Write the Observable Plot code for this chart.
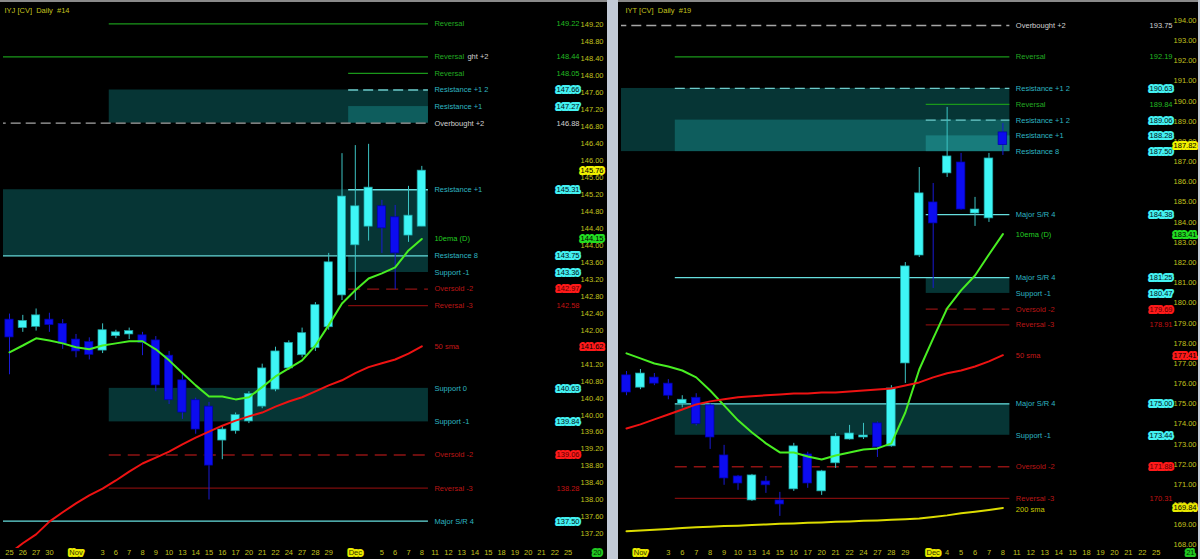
<!DOCTYPE html>
<html><head><meta charset="utf-8">
<script src="https://cdn.jsdelivr.net/npm/d3@7"></script>
<script src="https://cdn.jsdelivr.net/npm/@observablehq/plot@0.6"></script>
<style>
html,body{margin:0;padding:0;background:#000;}
#wrap{position:relative;width:1200px;height:559px;background:#000;overflow:hidden;}
#left{position:absolute;left:0;top:0;}
#right{position:absolute;left:618px;top:0;}
#sep{position:absolute;left:607px;top:0;width:11px;height:559px;background:#c2cad6;}
#redge{position:absolute;left:1198px;top:0;width:2px;height:559px;background:#c2cad6;}
.topline{position:absolute;top:0;height:2px;background:#8a8a8a;}
</style></head><body>
<div id="wrap"><div id="left"></div><div id="sep"></div><div id="right"></div><div id="redge"></div>
<div class="topline" style="left:0;width:607px"></div><div class="topline" style="left:618px;width:580px"></div></div>
<script>
// ---------- shared data ----------
const days = ["25","26","27","30","31","Nov","2","3","6","7","8","9","10","13","14","15","16","17","20","21","22","24","27","28","29","30","Dec","4","5","6","7","8","11","12","13","14","15","18","19","20","21","22","25"];
const monthDays = [5, 26];
const leftHiddenDays = [4, 6, 25, 27];
const rightHiddenDays = [0, 1, 2, 3, 4, 6, 25];

// ---------- IYJ (left) ----------
const leftTitle = "IYJ [CV]  Daily  #14";
const leftCounter = "20";
const leftStart = 0;
// [open, high, low, close]
const leftOHLC = [
  [142.25,142.38,140.95,141.83],[142.05,142.35,141.95,142.22],[142.08,142.50,141.98,142.35],[142.25,142.40,141.95,142.12],
  [142.15,142.25,141.55,141.68],[141.78,141.90,141.35,141.50],[141.72,141.82,141.30,141.42],[141.52,142.15,141.45,142.00],
  [141.86,142.00,141.80,141.95],[141.90,142.05,141.78,141.98],[141.88,141.95,141.40,141.70],[141.76,141.85,140.55,140.70],
  [141.40,141.50,140.25,140.35],[140.82,140.95,139.90,140.06],[140.35,140.40,139.55,139.66],[140.20,140.30,138.00,138.81],
  [139.40,139.75,138.95,139.66],[139.62,140.05,139.55,140.00],[139.85,140.55,139.80,140.50],[140.20,141.20,140.15,141.10],
  [140.60,141.60,140.55,141.50],[141.10,141.75,141.05,141.70],[141.41,142.05,141.35,141.93],[141.58,142.65,141.50,142.59],
  [142.07,143.81,142.00,143.60],[142.82,146.16,142.70,145.15],[144.00,146.35,142.70,144.92],[144.44,146.38,144.10,145.36],
  [144.92,145.06,143.81,144.40],[144.66,144.94,142.96,143.81],[144.23,145.39,144.07,144.70],[144.44,145.86,144.44,145.76]
];
const leftEMA10 = [141.48,141.64,141.81,141.76,141.69,141.60,141.55,141.64,141.69,141.74,141.74,141.55,141.29,140.99,140.70,140.44,
  140.44,140.37,140.42,140.66,140.91,141.10,141.29,141.64,142.12,142.63,142.94,143.22,143.34,143.48,143.88,144.15];
const leftSMA50 = [136.74,136.98,137.19,137.49,137.71,137.92,138.11,138.27,138.46,138.67,138.86,139.00,139.14,139.31,139.47,139.61,
  139.75,139.87,139.97,140.06,140.20,140.32,140.42,140.56,140.70,140.82,140.99,141.13,141.22,141.31,141.45,141.62];
const leftTicks = [149.2,148.8,148.4,148.0,147.6,147.2,146.8,146.4,146.0,145.6,145.2,144.8,144.4,144.0,143.6,143.2,142.8,142.4,142.0,141.6,141.2,140.8,140.4,140.0,139.6,139.2,138.8,138.4,138.0,137.6,137.2];
const leftLevelNames = ["Reversal","Reversal","Reversal","Resistance +1 2","Resistance +1","Overbought +2","Resistance +1","Resistance 8","Support -1","Oversold -2","Reversal -3","Support 0","Support -1","Oversold -2","Reversal -3","Major S/R 4"];
const leftLevelValues = [149.22,148.44,148.05,147.66,147.27,146.88,145.31,143.75,143.36,142.97,142.58,140.63,139.84,139.06,138.28,137.50];
const leftLevelKinds = ["reversal","reversal","reversal","resistanceDash","zone","overbought","resistance","resistance","zone","oversold","reversal3","zone","zone","oversold","reversal3","resistance"];
const leftLevelFrom = [7.5,-1,25.5,25.5,null,-1,25.5,-1,null,25.5,25.5,null,null,7.5,7.5,-1];
const leftZoneHi = [147.66,147.27,145.31,145.31,140.63];
const leftZoneLo = [146.88,146.88,143.75,143.36,139.84];
const leftZoneFrom = [7.5,25.5,-1,25.5,7.5];
const leftZoneShade = ["dark","light","dark","dark","dark"];
const leftOverlapText = ["ght +2"];
const leftOverlapValue = [148.44];

// ---------- IYT (right) ----------
const rightTitle = "IYT [CV]  Daily  #19";
const rightCounter = "21";
const rightStart = 4;
const rightOHLC = [
  [176.41,176.60,175.40,175.56],[175.80,176.70,175.70,176.50],[176.30,176.50,175.90,176.00],[176.00,176.20,175.20,175.40],
  [175.00,175.40,174.80,175.20],[175.30,175.50,173.90,174.00],[174.92,175.00,172.74,173.33],[172.44,172.94,170.96,171.30],
  [171.40,171.45,170.71,171.05],[170.21,171.50,170.16,171.45],[171.15,171.40,170.56,170.96],[170.21,170.61,169.42,170.01],
  [170.76,173.04,170.66,172.89],[172.49,172.60,170.81,171.05],[170.66,171.70,170.46,171.65],[172.05,173.53,171.80,173.38],
  [173.23,173.93,173.20,173.53],[173.33,174.03,173.23,173.43],[174.03,174.10,172.34,172.84],[172.89,175.90,172.85,175.76],
  [177.00,182.00,176.01,181.81],[182.35,186.71,182.25,185.43],[184.98,185.92,180.72,183.94],[186.42,189.69,186.22,187.26],
  [186.96,187.41,184.60,184.63],[184.43,185.23,183.79,184.63],[184.19,187.41,183.99,187.16],[188.45,188.89,187.31,187.82]
];
const rightEMA10 = [177.50,177.25,177.00,176.85,176.65,176.31,175.66,174.92,174.18,173.58,173.04,172.59,172.59,172.39,172.24,172.44,
  172.59,172.74,172.79,173.04,174.57,176.70,178.24,179.73,180.62,181.36,182.40,183.41];
const rightSMA50 = [173.78,173.98,174.23,174.47,174.72,174.97,175.12,175.22,175.32,175.37,175.42,175.46,175.51,175.51,175.56,175.56,
  175.61,175.66,175.71,175.76,175.91,176.06,176.31,176.51,176.65,176.85,177.10,177.41];
const rightSMA200 = [168.68,168.72,168.76,168.80,168.84,168.88,168.91,168.94,168.96,168.99,169.02,169.05,169.07,169.10,169.12,169.15,
  169.17,169.20,169.22,169.25,169.28,169.32,169.39,169.47,169.57,169.65,169.74,169.84];
const rightTicks = [194,193,192,191,190,189,188,187,186,185,184,183,182,181,180,179,178,177,176,175,174,173,172,171,170,169,168];
const rightLevelNames = ["Overbought +2","Reversal","Resistance +1 2","Reversal","Resistance +1 2","Resistance +1","Resistance 8","Major S/R 4","Major S/R 4","Support -1","Oversold -2","Reversal -3","Major S/R 4","Support -1","Oversold -2","Reversal -3"];
const rightLevelValues = [193.75,192.19,190.63,189.84,189.06,188.28,187.50,184.38,181.25,180.47,179.69,178.91,175.00,173.44,171.88,170.31];
const rightLevelKinds = ["overbought","reversal","resistanceDash","reversal","resistanceDash","zone","zone","resistance","resistance","zone","oversold","reversal3","resistance","zone","oversold","reversal3"];
const rightLevelFrom = [-1,7.5,7.5,25.5,25.5,null,null,25.5,7.5,null,25.5,25.5,7.5,null,7.5,7.5];
const rightZoneHi = [190.63,189.06,188.28,181.25,175.00];
const rightZoneLo = [187.50,187.50,187.50,180.47,173.44];
const rightZoneFrom = [-1,7.5,25.5,25.5,7.5];
const rightZoneShade = ["dark","light","lighter","dark","dark"];

// ---------- styles ----------
const OLIVE = "#c2c21e";
const COL = {
  up:"#3ef6f6", upEdge:"#1e9e9e", upWick:"#3cc4c4",
  down:"#0c0cf0", downEdge:"#0000a8", downWick:"#1a1ad4",
  zone:{dark:"#063535", light:"#0e5d5d", lighter:"#187c7c"}
};
const KIND = {
  reversal:{line:"#1a981a", dash:null, label:"#22aa22", value:"#22bb22", box:null},
  resistance:{line:"#66dede", dash:null, label:"#2eb6c2", value:"#001018", box:"#44f2f2"},
  resistanceDash:{line:"#6ccaca", dash:"10,5", label:"#2eb6c2", value:"#001018", box:"#44f2f2"},
  zone:{line:null, dash:null, label:"#2eb6c2", value:"#001018", box:"#44f2f2"},
  overbought:{line:"#a6a6a6", dash:"10,5", label:"#d2d2d2", value:"#d2d2d2", box:null},
  oversold:{line:"#8e1313", dash:"12,7", label:"#bb1616", value:"#5a0000", box:"#ff1a1a"},
  reversal3:{line:"#7e0c0c", dash:null, label:"#bb1616", value:"#c41212", box:null}
};

function buildPanel(p) {
  const END = 31.5;
  const candles = p.ohlc.map(([o,h,l,c],k)=>({i:p.start+k,o,h,l,c,up:c>=o}));
  const levels = p.levelNames.map((name,k)=>({name, value:p.levelValues[k], kind:p.levelKinds[k], from:p.levelFrom[k]}));
  const zones = p.zoneHi.map((hi,k)=>({hi, lo:p.zoneLo[k], from:p.zoneFrom[k], shade:p.zoneShade[k]}));
  const lined = levels.filter(d=>d.from!==null && KIND[d.kind].line);
  const dashes = [...new Set(lined.map(d=>KIND[d.kind].dash))];
  const dayRows = days.map((label,i)=>({i,label})).filter(d=>!p.hidden.includes(d.i));
  const maMarks = [];
  const axisBoxes = [{value:candles[candles.length-1].c, box:"#f2f200", ink:"#000"}];
  for (const ma of p.mas) {
    const pts = ma.values.map((v,k)=>({i:p.start+k, v}));
    maMarks.push(Plot.line(pts, {x:"i", y:"v", stroke:ma.color, strokeWidth:2, clip:true}));
    const last = ma.values[ma.values.length-1];
    maMarks.push(Plot.text([last], {x:()=>END, y:d=>d, dy:ma.labelDy||0, text:()=>ma.name, dx:6, textAnchor:"start", fill:ma.labelColor}));
    axisBoxes.push({value:last, box:ma.box, ink:"#000"});
  }
  const boxed = levels.filter(d=>KIND[d.kind].box);
  const plain = levels.filter(d=>!KIND[d.kind].box);
  const marks = [
    Plot.rect(zones, {x1:"from", x2:()=>END, y1:"lo", y2:"hi", fill:d=>COL.zone[d.shade], clip:true}),
    ...dashes.map(dash => Plot.ruleY(lined.filter(d=>KIND[d.kind].dash===dash), {y:"value", x1:"from", x2:()=>END, stroke:d=>KIND[d.kind].line, strokeWidth:1.3, strokeDasharray:dash||undefined, clip:true})),
    Plot.ruleX(candles, {x:"i", y1:"l", y2:"h", stroke:d=>d.up?COL.upWick:COL.downWick, strokeWidth:1, clip:true}),
    Plot.rect(candles, {x1:d=>d.i-0.31, x2:d=>d.i+0.31, y1:"o", y2:"c", fill:d=>d.up?COL.up:COL.down, stroke:d=>d.up?COL.upEdge:COL.downEdge, strokeWidth:0.7, clip:true}),
    ...maMarks,
    Plot.text(levels, {x:()=>END, y:"value", text:"name", dx:6, textAnchor:"start", fill:d=>KIND[d.kind].label}),
    Plot.text(p.overlap, {x:()=>END, y:"value", text:"text", dx:39, textAnchor:"start", fill:"#cfcfcf"}),
    Plot.text(plain, {y:"value", text:d=>d.value.toFixed(2), frameAnchor:"right", dx:p.valueDx, textAnchor:"end", fill:d=>KIND[d.kind].value}),
    Plot.text(boxed, {y:"value", text:d=>d.value.toFixed(2), frameAnchor:"right", dx:p.valueDx, textAnchor:"end", fill:d=>KIND[d.kind].value, stroke:d=>KIND[d.kind].box, strokeWidth:4, paintOrder:"stroke", strokeLinejoin:"round"}),
    Plot.text(p.ticks, {y:d=>d, text:d=>d.toFixed(2), frameAnchor:"right", dx:p.axisDx, textAnchor:"end", fill:OLIVE}),
    Plot.text(axisBoxes, {y:"value", text:d=>d.value.toFixed(2), frameAnchor:"right", dx:p.axisDx, textAnchor:"end", fill:"ink", stroke:"box", strokeWidth:4, paintOrder:"stroke", strokeLinejoin:"round"}),
    Plot.text(dayRows.filter(d=>!monthDays.includes(d.i)), {x:"i", text:"label", frameAnchor:"bottom", dy:6, fill:OLIVE}),
    Plot.text(dayRows.filter(d=>monthDays.includes(d.i)), {x:"i", text:"label", frameAnchor:"bottom", dy:6, fill:"#303000", stroke:"#e8e800", strokeWidth:4, paintOrder:"stroke", strokeLinejoin:"round"}),
    Plot.text([p.counter], {frameAnchor:"bottom-right", dx:p.axisDx-2, dy:6, textAnchor:"end", fill:"#003000", stroke:"#22c822", strokeWidth:4, paintOrder:"stroke"}),
    Plot.text([p.title], {frameAnchor:"top-left", dx:p.titleDx, dy:7, textAnchor:"start", fill:OLIVE})
  ];
  return Plot.plot({
    width:p.width, height:559, marginLeft:3, marginRight:0, marginTop:0, marginBottom:11,
    x:{domain:p.xDomain, range:p.xRange, axis:null},
    y:{domain:p.yDomain, range:p.yRange, axis:null},
    color:{type:"identity"},
    style:{background:"#000", fontFamily:"'Liberation Sans', Arial, sans-serif", fontSize:"7.5px", overflow:"visible"},
    marks
  });
}

const left = buildPanel({
  width:607, xDomain:[0,31], xRange:[9,421.3], yDomain:[137.50,149.22], yRange:[520.7,23.3],
  ohlc:leftOHLC, start:leftStart,
  mas:[{name:"10ema (D)", values:leftEMA10, color:"#48ee22", labelColor:"#22cc22", box:"#22dd22"},
       {name:"50 sma", values:leftSMA50, color:"#ee1212", labelColor:"#c41818", box:"#ff1a1a"}],
  levelNames:leftLevelNames, levelValues:leftLevelValues, levelKinds:leftLevelKinds, levelFrom:leftLevelFrom,
  zoneHi:leftZoneHi, zoneLo:leftZoneLo, zoneFrom:leftZoneFrom, zoneShade:leftZoneShade,
  overlap:leftOverlapText.map((text,k)=>({text, value:leftOverlapValue[k]})),
  ticks:leftTicks, hidden:leftHiddenDays, valueDx:-28, axisDx:-4, title:leftTitle, titleDx:1, counter:leftCounter
});
const right = buildPanel({
  width:580, xDomain:[4,31], xRange:[8,384.4], yDomain:[175.00,193.75], yRange:[403.3,25],
  ohlc:rightOHLC, start:rightStart,
  mas:[{name:"10ema (D)", values:rightEMA10, color:"#48ee22", labelColor:"#22cc22", box:"#22dd22"},
       {name:"50 sma", values:rightSMA50, color:"#ee1212", labelColor:"#c41818", box:"#ff1a1a"},
       {name:"200 sma", values:rightSMA200, color:"#dcdc00", labelColor:"#c8c800", box:"#e8e800", labelDy:2}],
  levelNames:rightLevelNames, levelValues:rightLevelValues, levelKinds:rightLevelKinds, levelFrom:rightLevelFrom,
  zoneHi:rightZoneHi, zoneLo:rightZoneLo, zoneFrom:rightZoneFrom, zoneShade:rightZoneShade,
  overlap:[],
  ticks:rightTicks, hidden:rightHiddenDays, valueDx:-26, axisDx:-2, title:rightTitle, titleDx:4, counter:rightCounter
});
document.getElementById("left").appendChild(left);
document.getElementById("right").appendChild(right);
</script>
</body></html>
